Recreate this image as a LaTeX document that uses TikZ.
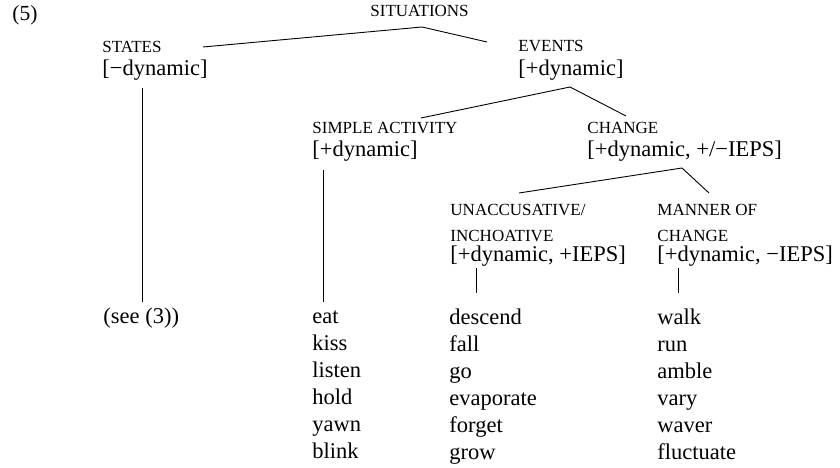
\documentclass[tikz,border=0pt]{standalone}
\usepackage{fontspec}
\setmainfont{Liberation Serif}
\usepackage{tikz}
\usetikzlibrary{
	calc,											% 坐标计算
}

\begin{document}
\begin{tikzpicture}[x=1pt, y=-1pt, line width=0.9pt,
		every node/.style={anchor=base west, inner sep=0pt},
		cat/.style={font=\fontsize{17}{26}\selectfont},
		feat/.style={font=\fontsize{22.5}{27}\selectfont},
		words/.style={font=\fontsize{22.5}{27}\selectfont}]
		\useasboundingbox (0,0) rectangle (840,468);
		\node[font=\fontsize{21.5}{26}\selectfont] (num) at (12,21) {(5)};
		% 顶层
		\node[cat] (sit) at (370,17) {SITUATIONS};
		\node[cat] (states) at (102,53) {STATES};
		\node[feat] (statesf) at (102,76) {[−dynamic]};
		\node[cat] (events) at (518,52) {EVENTS};
		\node[feat] (eventsf) at (518,76) {[+dynamic]};
		% 第二层
		\node[cat] (simple) at (312,133) {SIMPLE ACTIVITY};
		\node[feat] (simplef) at (312,156) {[+dynamic]};
		\node[cat] (change) at (587,133) {CHANGE};
		\node[feat] (changef) at (587,156) {[+dynamic, +/−IEPS]};
		% 第三层
		\node[cat] (unacc) at (450,215) {UNACCUSATIVE/};
		\node[cat] (incho) at (450,241) {INCHOATIVE};
		\node[feat] (unaccf) at (450,261) {[+dynamic, +IEPS]};
		\node[cat] (manner) at (657,215) {MANNER OF};
		\node[cat] (mchange) at (657,241) {CHANGE};
		\node[feat] (mannerf) at (657,261) {[+dynamic, −IEPS]};
		% 动词列表
		\node[words] (see) at (103,323) {(see (3))};
		\foreach \w [count=\i] in {eat,kiss,listen,hold,yawn,blink}
			\node[words] (act-\i) at (312,323+27*\i-27) {\w};
		\foreach \w [count=\i] in {descend,fall,go,evaporate,forget,grow}
			\node[words] (inc-\i) at (449,324+27*\i-27) {\w};
		\foreach \w [count=\i] in {walk,run,amble,vary,waver,fluctuate}
			\node[words] (man-\i) at (657,324+27*\i-27) {\w};
		% 分支点
		\coordinate (sit-top) at (422,27);
		\coordinate (sit-l) at (203,47);
		\coordinate (sit-r) at (487,42);
		\coordinate (ev-top) at (570,87);
		\coordinate (ev-l) at (421,118);
		\coordinate (ev-r) at (626,116);
		\coordinate (ch-top) at (682,168);
		\coordinate (ch-l) at (519,193);
		\coordinate (ch-r) at (709,193);
		\draw (sit-l) -- (sit-top) -- (sit-r);
		\draw (ev-l) -- (ev-top) -- (ev-r);
		\draw (ch-l) -- (ch-top) -- (ch-r);
		% 竖线
		\coordinate (st-a) at (142,88);
		\coordinate (st-b) at (142,302);
		\coordinate (sa-a) at (323,170);
		\coordinate (sa-b) at (323,302);
		\coordinate (in-a) at (476,268);
		\coordinate (in-b) at (476,293);
		\coordinate (ma-a) at (678,268);
		\coordinate (ma-b) at (678,293);
		\draw (st-a) -- (st-b);
		\draw (sa-a) -- (sa-b);
		\draw (in-a) -- (in-b);
		\draw (ma-a) -- (ma-b);
	\end{tikzpicture}
\end{document}
